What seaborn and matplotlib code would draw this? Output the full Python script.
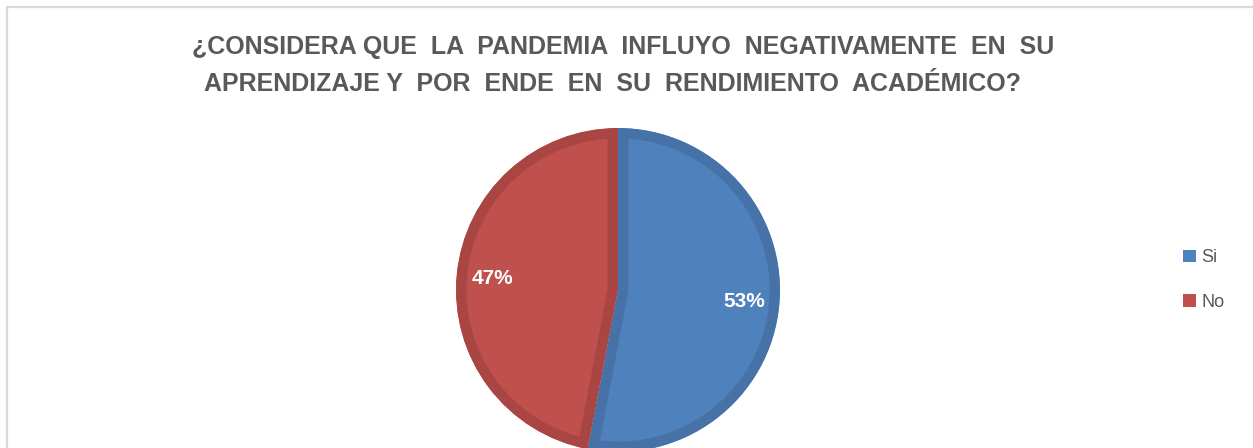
import matplotlib
matplotlib.use("Agg")
import matplotlib.pyplot as plt
import seaborn as sns
from matplotlib.patches import Rectangle

# datos del gráfico
categorias = ["Si", "No"]
porcentajes = [53, 47]
colores = ["#4F81BD", "#C0504D"]
bordes = ["#4672A8", "#A94644"]
titulo_1 = "¿CONSIDERA QUE  LA  PANDEMIA  INFLUYO  NEGATIVAMENTE  EN  SU"
titulo_2 = "APRENDIZAJE Y  POR  ENDE  EN  SU  RENDIMIENTO  ACADÉMICO?"

sns.set_theme(style="white")
plt.rcParams['font.family'] = ['Liberation Sans', 'DejaVu Sans']

W, H = 1253, 448
fig = plt.figure(figsize=(W / 100, H / 100), dpi=100)

# marco gris del gráfico (recortado por la imagen)
fig.patches.append(Rectangle((7 / W, -0.1), 1.2, (441 / H) + 0.1, transform=fig.transFigure,
                             fill=False, edgecolor="#D9D9D9", linewidth=1.6))

# ejes del pie: centro (618, 290) px, radio 162 px
cx, cy, r = 618, H - 290, 162
half = 200
ax = fig.add_axes([(cx - half) / W, (cy - half) / H, 2 * half / W, 2 * half / H])

wedges, textos, autotextos = ax.pie(
    porcentajes, colors=colores, startangle=90, counterclock=False,
    autopct=lambda p: "{:.0f}%".format(p), pctdistance=0.78,
    wedgeprops=dict(linewidth=15), radius=1,
    textprops=dict(color="white", fontsize=15, fontweight="bold"))
ax.set_xlim(-half / r, half / r)
ax.set_ylim(-half / r, half / r)
ax.axis("off")
# borde interior más oscuro: trazo recortado a la propia cuña
for w, b in zip(wedges, bordes):
    w.set_edgecolor(b)
    w.set_clip_on(True)
    w.set_clip_path(w.get_path(), ax.transData)

# título
fig.text(623 / W, 1 - 47 / H, titulo_1, ha="center", va="center", fontsize=18,
         fontweight="bold", color="#595959")
fig.text(612 / W, 1 - 84 / H, titulo_2, ha="center", va="center", fontsize=18,
         fontweight="bold", color="#595959")

# leyenda
leg = fig.legend(wedges, categorias, loc="center left", bbox_to_anchor=(1167 / W, 1 - 280 / H),
                 frameon=False, fontsize=13, handlelength=0.7, handleheight=0.7,
                 handletextpad=0.3, labelspacing=1.5)
for t in leg.get_texts():
    t.set_color("#595959")
for h in leg.legend_handles:
    h.set_linewidth(0)

fig.savefig("out.png", dpi=100)
